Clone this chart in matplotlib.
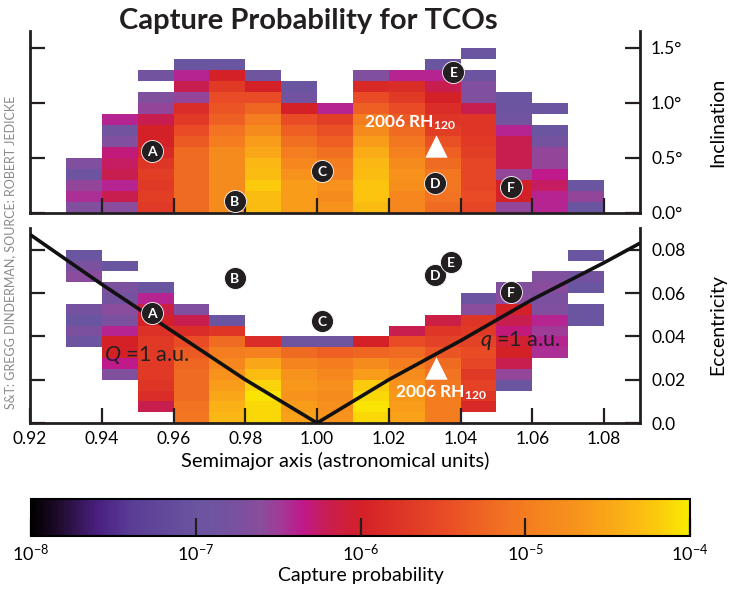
import numpy as np
import matplotlib
matplotlib.use("Agg")
import matplotlib.pyplot as plt
from matplotlib.colors import LinearSegmentedColormap, LogNorm
from matplotlib.cm import ScalarMappable

plt.rcParams['font.family'] = ['Lato', 'DejaVu Sans']
plt.rcParams['mathtext.fontset'] = 'custom'
plt.rcParams['mathtext.rm'] = 'Lato'
plt.rcParams['mathtext.it'] = 'Lato:italic'
plt.rcParams['mathtext.bf'] = 'Lato:bold'

N = np.nan

# bin edges: semimajor axis (au), inclination (deg), eccentricity
a_edges = np.linspace(0.93, 1.08, 16)
incl_edges = np.linspace(0.0, 1.5, 16)
ecc_edges = np.linspace(0.0, 0.08, 17)

# log10 capture probability, one list per semimajor-axis column, inclination bins from 0
incl_cols = [
    [-6.7, -6.45, -6.55, -6.95, -6.7, N, N, N, N, N, N, N, N, N, N],              # 0.93
    [-6.6, -6.2, -6.4, -6.2, -6.25, -6.3, -6.7, -6.85, -6.4, N, N, N, N, N, N],    # 0.94
    [-5.7, -5.65, -5.7, -5.65, -5.75, -5.9, -6.0, -6.0, -6.2, -6.55, -6.7, N, -6.85, N, N],
    [-5.2, -5.2, -5.2, -5.2, -5.2, -5.2, -5.35, -5.5, -5.7, -5.85, -6.55, -6.2, -6.4, -7.0, N],
    [-4.8, -4.8, -4.8, -4.8, -4.8, -4.8, -5.0, -5.1, -5.3, -5.4, -5.5, -5.7, -6.0, -7.0, N],
    [-4.3, -4.3, -4.2, -4.3, -4.35, -4.5, -4.6, -4.8, -5.0, -5.25, -5.5, -6.0, -6.9, N, N],
    [-4.6, -4.6, -4.6, -4.7, -4.85, -5.0, -5.15, -5.3, -5.5, -6.0, -6.85, -7.0, N, N, N],
    [-4.7, -4.8, -4.7, -4.95, -5.0, -5.15, -5.3, -5.45, -5.65, -6.4, N, N, N, N, N],
    [-4.3, -4.25, -4.25, -4.3, -4.35, -4.45, -4.6, -4.8, -5.0, -5.3, -5.5, -5.9, -6.7, N, N],
    [-4.85, -4.85, -4.75, -4.7, -4.8, -4.95, -5.05, -5.2, -5.35, -5.5, -5.7, -5.85, -6.4, N, N],
    [-5.2, -5.1, -5.05, -5.05, -5.2, -5.3, -5.45, -5.65, -5.75, -5.85, -6.0, -6.2, -6.4, -7.0, N],
    [-5.55, -5.5, -5.55, -5.55, -5.55, -5.65, -5.7, -5.75, -5.75, -6.2, -6.7, -6.7, -6.95, N, -7.0],
    [-6.55, -6.0, -6.0, -6.55, -6.2, -6.2, -6.2, -6.4, -6.85, -6.95, -7.0, N, N, N, N],
    [-6.4, -6.4, -6.25, -6.35, -6.55, -6.55, -6.8, -7.0, N, -7.0, N, N, N, N, N],
    [-7.0, -6.55, -7.0, N, N, N, N, N, N, N, N, N, N, N, N],                      # 1.07
]

# same columns, eccentricity bins from 0
ecc_cols = [
    [N, N, N, N, N, N, N, -6.95, -6.75, -7.0, -6.8, N, N, -6.6, -6.75, -7.0],     # 0.93
    [N, N, N, N, -6.7, -6.35, -6.0, -6.0, -6.4, -6.75, -6.6, -6.8, -6.75, N, -7.0, N],
    [N, -6.2, -5.85, -5.75, -5.7, -5.7, -5.7, -5.7, -5.8, -6.0, -6.15, -6.4, -7.0, N, N, N],
    [-5.05, -5.1, -5.2, -5.2, -5.2, -5.25, -5.35, -5.5, -5.85, -6.2, -6.7, N, N, N, N, N],
    [-4.35, -4.4, -4.5, -4.6, -4.7, -4.85, -5.0, -5.2, -5.75, -7.0, N, N, N, N, N, N],
    [-4.12, -4.12, -4.05, -4.15, -4.3, -4.5, -4.95, -5.85, N, N, N, N, N, N, N, N],
    [-4.55, -4.6, -4.7, -4.65, -4.7, -4.9, -5.2, -6.9, N, N, N, N, N, N, N, N],
    [-4.7, -4.75, -4.8, -4.75, -4.85, -5.0, -5.3, -6.9, N, N, N, N, N, N, N, N],
    [-4.12, -4.05, -4.12, -4.2, -4.6, -4.8, -5.25, -6.0, N, N, N, N, N, N, N, N],
    [-4.55, -4.6, -4.65, -4.7, -4.8, -5.0, -5.2, -5.5, -6.2, N, N, N, N, N, N, N],
    [-5.0, -5.0, -5.0, -5.05, -5.1, -5.2, -5.4, -5.6, -5.75, -6.15, N, N, N, N, N, N],
    [N, -5.9, -5.75, -5.6, -5.7, -5.55, -5.5, -5.6, -5.7, -5.75, -6.6, -6.95, N, N, N, N],
    [N, N, N, -7.0, -6.55, -6.2, -6.0, -6.05, -6.3, -6.2, -6.0, -6.6, -6.7, N, N, N],
    [N, N, N, N, N, N, -6.45, -6.4, -6.5, -6.4, -6.7, -6.75, -6.6, -6.7, N, N],
    [N, N, N, N, N, N, N, N, N, -7.0, -7.0, N, -7.0, -6.8, N, -7.0],             # 1.07
]

# labelled objects (a, i) and (a, e)
obj_names = ['A', 'B', 'C', 'D', 'E', 'F']
obj_a_top = [0.954, 0.977, 1.0015, 1.033, 1.038, 1.054]
obj_incl = [0.56, 0.105, 0.38, 0.27, 1.28, 0.23]
obj_a_bot = [0.954, 0.977, 1.0015, 1.033, 1.0372, 1.054]
obj_ecc = [0.0508, 0.0669, 0.0471, 0.0683, 0.0743, 0.0605]
rh_a, rh_incl, rh_ecc = 1.0331, 0.61, 0.0254

# Q = 1 au and q = 1 au boundaries
Q_a = [0.92, 0.94, 0.96, 0.98, 1.00]
Q_e = [0.087, 0.064, 0.042, 0.020, 0.0]
q_a = [1.00, 1.02, 1.04, 1.06, 1.08, 1.09]
q_e = [0.0, 0.020, 0.038, 0.057, 0.074, 0.083]

cb_ticks = [1e-8, 1e-7, 1e-6, 1e-5, 1e-4]
cb_labels = [r'$10^{-8}$', r'$10^{-7}$', r'$10^{-6}$', r'$10^{-5}$', r'$10^{-4}$']

# colour ramp, anchored on log10 probability
anchors = [(-8.0, '#000000'), (-7.85, '#1e0a28'), (-7.6, '#4a2080'), (-7.4, '#5a3c95'),
           (-7.0, '#6a55a0'), (-6.8, '#7552a0'), (-6.6, '#8a4c9c'), (-6.5, '#a03c98'),
           (-6.35, '#c0188c'), (-6.2, '#c81e50'), (-6.0, '#d42028'), (-5.7, '#e03a26'),
           (-5.5, '#e84a26'), (-5.2, '#f06a22'), (-5.0, '#f47c20'), (-4.7, '#f7921c'),
           (-4.4, '#fab016'), (-4.2, '#fcc80e'), (-4.0, '#f8ec00')]
cmap = LinearSegmentedColormap.from_list('tco', [((v + 8) / 4, c) for v, c in anchors])
norm = LogNorm(1e-8, 1e-4)

fig = plt.figure(figsize=(7.32, 5.91), dpi=100)
ax1 = fig.add_axes([30 / 732, 1 - 212.7 / 591, 610 / 732, 181.7 / 591])
ax2 = fig.add_axes([30 / 732, 1 - 423 / 591, 610 / 732, 195 / 591])

Z1 = np.ma.masked_invalid(10 ** np.array(incl_cols).T)
Z2 = np.ma.masked_invalid(10 ** np.array(ecc_cols).T)
ax1.pcolormesh(a_edges, incl_edges, Z1, cmap=cmap, norm=norm)
ax2.pcolormesh(a_edges, ecc_edges, Z2, cmap=cmap, norm=norm)

dark = '#231f20'
for ax, xs, ys in [(ax1, obj_a_top, obj_incl), (ax2, obj_a_bot, obj_ecc)]:
    ax.scatter(xs, ys, s=250, color=dark, zorder=5, edgecolor='white', linewidth=0.6)
    for n, x, y in zip(obj_names, xs, ys):
        ax.text(x, y, n, color='white', fontsize=10, fontweight='bold',
                ha='center', va='center_baseline', zorder=6)

ax1.scatter([rh_a], [rh_incl], marker='^', s=260, color='white', zorder=5, linewidth=0)
ax1.text(1.026, 0.82, r'2006 RH$_{\mathbf{120}}$', color='white', fontsize=12.5,
         fontweight='bold', ha='center', va='center', zorder=6)
ax2.scatter([rh_a], [rh_ecc], marker='^', s=260, color='white', zorder=5, linewidth=0)
ax2.text(1.0345, 0.0141, r'2006 RH$_{\mathbf{120}}$', color='white', fontsize=12.5,
         fontweight='bold', ha='center', va='center', zorder=6)

ax2.plot(Q_a, Q_e, color='#111111', lw=2.6, zorder=4, solid_capstyle='butt')
ax2.plot(q_a, q_e, color='#111111', lw=2.6, zorder=4, solid_capstyle='butt')
ax2.text(0.9405, 0.0312, r'$Q$ =1 a.u.', fontsize=15.5, color='#231f20', va='center', zorder=6)
ax2.text(1.0453, 0.0381, r'$q$ =1 a.u.', fontsize=15.5, color='#231f20', va='center', zorder=6)

for ax in (ax1, ax2):
    ax.set_xlim(0.92, 1.09)
    ax.spines['top'].set_visible(False)
    for s in ('left', 'right', 'bottom'):
        ax.spines[s].set_linewidth(2)
        ax.spines[s].set_color('#231f20')
    ax.set_xticks([0.94, 0.96, 0.98, 1.00, 1.02, 1.04, 1.06, 1.08])
    ax.tick_params(direction='in', length=11, width=1.6, color='#231f20',
                   left=True, right=True, labelleft=False, labelright=True,
                   labelsize=12.5, pad=8)

ax1.set_ylim(0, 1.65)
ax1.set_yticks([0.0, 0.5, 1.0, 1.5])
ax1.set_yticklabels(['0.0°', '0.5°', '1.0°', '1.5°'])
ax1.tick_params(axis='x', labelbottom=False)

ax2.set_ylim(0, 0.09)
ax2.set_yticks([0.0, 0.02, 0.04, 0.06, 0.08])
ax2.set_yticklabels(['0.0', '0.02', '0.04', '0.06', '0.08'])
ax2.set_xticks([0.92, 0.94, 0.96, 0.98, 1.00, 1.02, 1.04, 1.06, 1.08])
ax2.set_xticklabels(['0.92', '0.94', '0.96', '0.98', '1.00', '1.02', '1.04', '1.06', '1.08'])
ax2.tick_params(axis='x', pad=6)
ax2.set_xlabel('Semimajor axis (astronomical units)', fontsize=14.5, labelpad=3)

fig.text(0.981, 1 - 122 / 591, 'Inclination', rotation=90, fontsize=14, ha='center', va='center')
fig.text(0.981, 1 - 325 / 591, 'Eccentricity', rotation=90, fontsize=14, ha='center', va='center')
fig.text(0.0137, 1 - 252 / 591, 'S&T: GREGG DINDERMAN, SOURCE: ROBERT JEDICKE', rotation=90,
         fontsize=9, color='#8a8a8a', ha='center', va='center')
fig.text(308 / 732, 1 - 21 / 591, 'Capture Probability for TCOs', fontsize=21,
         fontweight='bold', ha='center', va='center', color='#231f20')

cax = fig.add_axes([31 / 732, 1 - 536 / 591, 659 / 732, 37 / 591])
cb = fig.colorbar(ScalarMappable(norm=norm, cmap=cmap), cax=cax, orientation='horizontal')
cb.set_ticks(cb_ticks)
cb.set_ticklabels(cb_labels)
cb.ax.minorticks_off()
cb.ax.tick_params(direction='in', length=13, width=1.6, color='#231f20', labelsize=13, pad=5)
cb.outline.set_linewidth(1.5)
cb.set_label('Capture probability', fontsize=14, labelpad=2)

fig.savefig('out.png', dpi=100)
